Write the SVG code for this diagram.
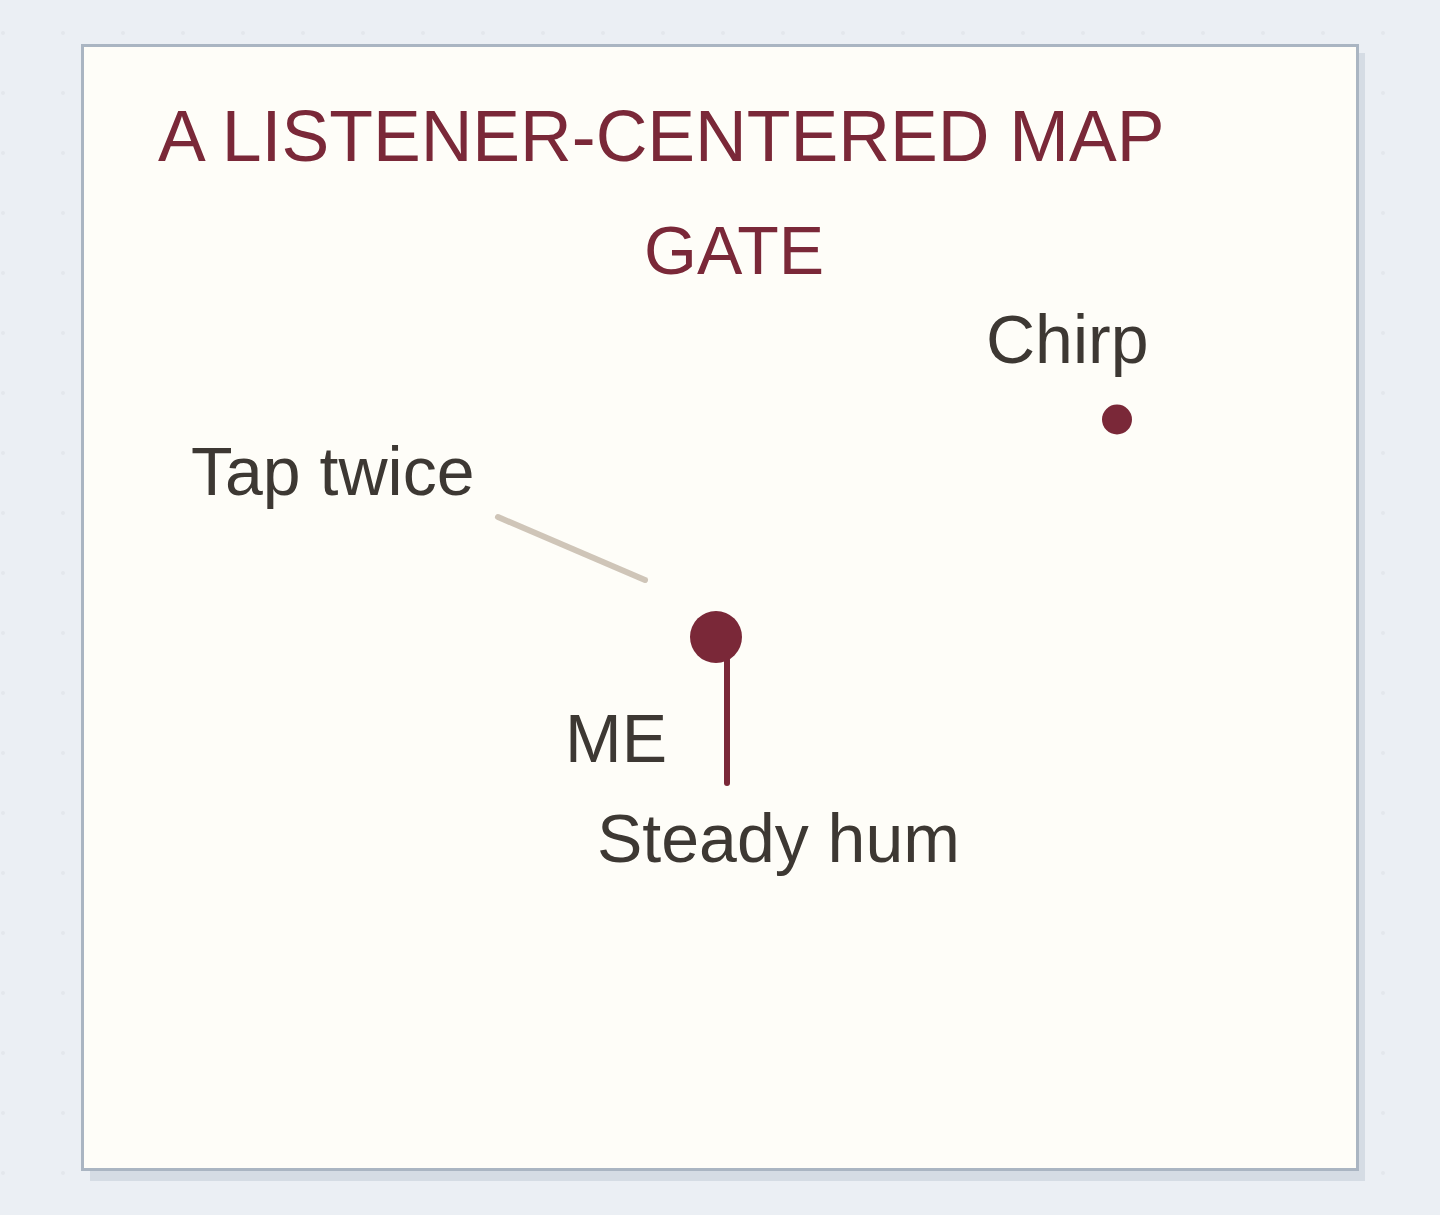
<svg xmlns="http://www.w3.org/2000/svg" width="1440" height="1215" viewBox="0 0 1440 1215">
<defs>
<pattern id="dots" x="3" y="33" width="60" height="60" patternUnits="userSpaceOnUse">
<circle cx="0" cy="0" r="2" fill="#e3e7ec"/><circle cx="60" cy="0" r="2" fill="#e3e7ec"/><circle cx="0" cy="60" r="2" fill="#e3e7ec"/><circle cx="60" cy="60" r="2" fill="#e3e7ec"/>
</pattern>
<style>
.title{font-family:"Liberation Sans",Arial,sans-serif;fill:#7a2838;}
.lbl{font-family:"Liberation Sans",Arial,sans-serif;font-size:68px;fill:#3d3833;}
.dot{fill:#7a2838;}
</style>
</defs>
<rect x="0" y="0" width="1440" height="1215" fill="#ebeff4"/>
<rect x="0" y="0" width="1440" height="1215" fill="url(#dots)"/>
<rect x="90" y="53" width="1275" height="1128" fill="#d5dce4"/>
<rect x="82.5" y="45.5" width="1275" height="1124" fill="#fefdf8" stroke="#aab5c2" stroke-width="3"/>
<text class="title" x="158" y="161" font-size="71.6">A LISTENER-CENTERED MAP</text>
<text class="title" x="644" y="274" font-size="68">GATE</text>
<g id="connectors">
<line x1="498" y1="517" x2="645" y2="580" stroke="#cfc5b8" stroke-width="6" stroke-linecap="round"/>
<line x1="727" y1="660" x2="727" y2="783" stroke="#7a2838" stroke-width="6" stroke-linecap="round"/>
</g>
<g id="node-me">
<circle class="dot" cx="716" cy="637" r="26"/>
<text class="lbl" x="565" y="762">ME</text>
</g>
<g id="node-chirp">
<circle class="dot" cx="1117" cy="419.5" r="15"/>
<text class="lbl" x="986" y="363">Chirp</text>
</g>
<g id="node-tap">
<text class="lbl" x="191" y="495" font-size="69">Tap twice</text>
</g>
<g id="node-hum">
<text class="lbl" x="597" y="862" font-size="67.5">Steady hum</text>
</g>
</svg>
